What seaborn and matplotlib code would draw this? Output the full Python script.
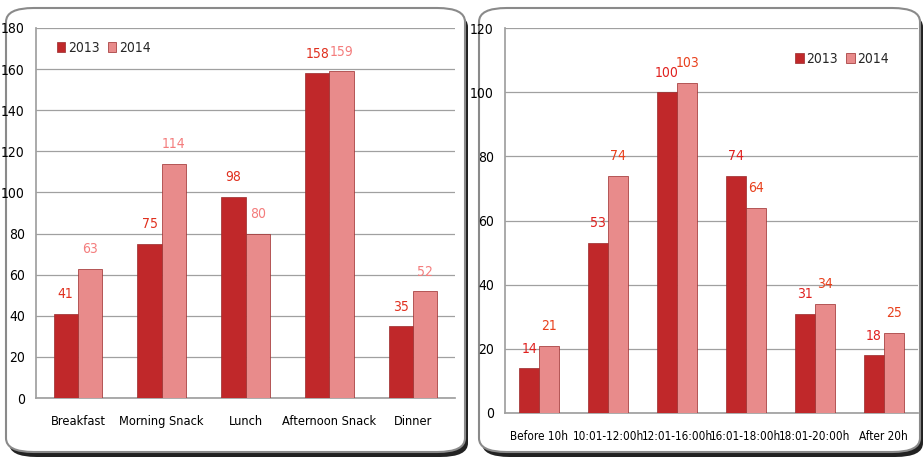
import pandas as pd
import matplotlib.pyplot as plt
import seaborn as sns
from matplotlib.patches import FancyBboxPatch

# datos
meals = ["Breakfast", "Morning Snack", "Lunch", "Afternoon Snack", "Dinner"]
meals_2013 = [41, 75, 98, 158, 35]
meals_2014 = [63, 114, 80, 159, 52]

slots = ["Before 10h", "10:01-12:00h", "12:01-16:00h", "16:01-18:00h",
         "18:01-20:00h", "After 20h"]
slots_2013 = [14, 53, 100, 74, 31, 18]
slots_2014 = [21, 74, 103, 64, 34, 25]

years = ["2013", "2014"]

sns.set_theme(style="white")
plt.rcParams['font.family'] = ['DejaVu Sans']
plt.rcParams['font.stretch'] = 'condensed'

bar_colors = {"2013": "#c0282a", "2014": "#e88b8b"}


def to_long(cats, v13, v14):
    return pd.DataFrame({
        "cat": cats * 2,
        "year": ["2013"] * len(cats) + ["2014"] * len(cats),
        "val": v13 + v14,
    })


fig = plt.figure(figsize=(9.24, 4.62), dpi=100)
fig.patch.set_facecolor("white")

# marcos redondeados con sombra
W, H = 924, 462
for (x0, x1) in [(6, 465), (479, 920)]:
    y0, y1 = 8, 452
    shadow = FancyBboxPatch(((x0 + 3) / W, (H - y1 - 5) / H), (x1 - x0) / W, (y1 - y0) / H,
                            boxstyle="round,pad=0,rounding_size=0.03",
                            transform=fig.transFigure, facecolor="#222222",
                            edgecolor="none", zorder=0)
    frame = FancyBboxPatch((x0 / W, (H - y1) / H), (x1 - x0) / W, (y1 - y0) / H,
                           boxstyle="round,pad=0,rounding_size=0.03",
                           transform=fig.transFigure, facecolor="white",
                           edgecolor="#8a8a8a", linewidth=1.5, zorder=1)
    fig.patches.extend([shadow, frame])


def panel(ax, df, ymax, step, label_colors, xsize, legend_loc, legend_anchor):
    sns.barplot(data=df, x="cat", y="val", hue="year", palette=bar_colors,
                width=0.58, gap=0.0, ax=ax, edgecolor="#9a2a2a", linewidth=0.5,
                saturation=1, zorder=3)
    ax.set_facecolor("none")
    ax.set_ylim(0, ymax)
    ax.set_yticks(range(0, ymax + 1, step))
    ax.yaxis.grid(True, color="#a0a0a0", linewidth=0.9, zorder=0)
    ax.set_xlabel("")
    ax.set_ylabel("")
    ax.tick_params(axis="y", labelsize=10, colors="black", length=0, pad=8)
    ax.tick_params(axis="x", labelsize=xsize, colors="black", length=0, pad=12)
    for s in ["top", "right"]:
        ax.spines[s].set_visible(False)
    for s in ["left", "bottom"]:
        ax.spines[s].set_color("#a0a0a0")
    for cont, col in zip(ax.containers, label_colors):
        ax.bar_label(cont, padding=9, color=col, fontsize=10)
    ax.legend(title=None, loc=legend_loc, bbox_to_anchor=legend_anchor, ncol=2,
              frameon=False, fontsize=10, handlelength=0.6, handleheight=0.7,
              columnspacing=0.6, handletextpad=0.2)


ax1 = fig.add_axes([36 / W, 64 / H, 419 / W, 370 / H])
panel(ax1, to_long(meals, meals_2013, meals_2014), 180, 20,
      ["#e0301e", "#f47c7c"], 9.2, "upper left", (0.02, 1.0))

ax2 = fig.add_axes([505 / W, 49 / H, 413 / W, 385 / H])
panel(ax2, to_long(slots, slots_2013, slots_2014), 120, 20,
      ["#e0201e", "#e8401c"], 8.4, "upper right", (0.96, 0.97))

for ax in (ax1, ax2):
    ax.set_zorder(2)

fig.savefig("out.png", dpi=100)
